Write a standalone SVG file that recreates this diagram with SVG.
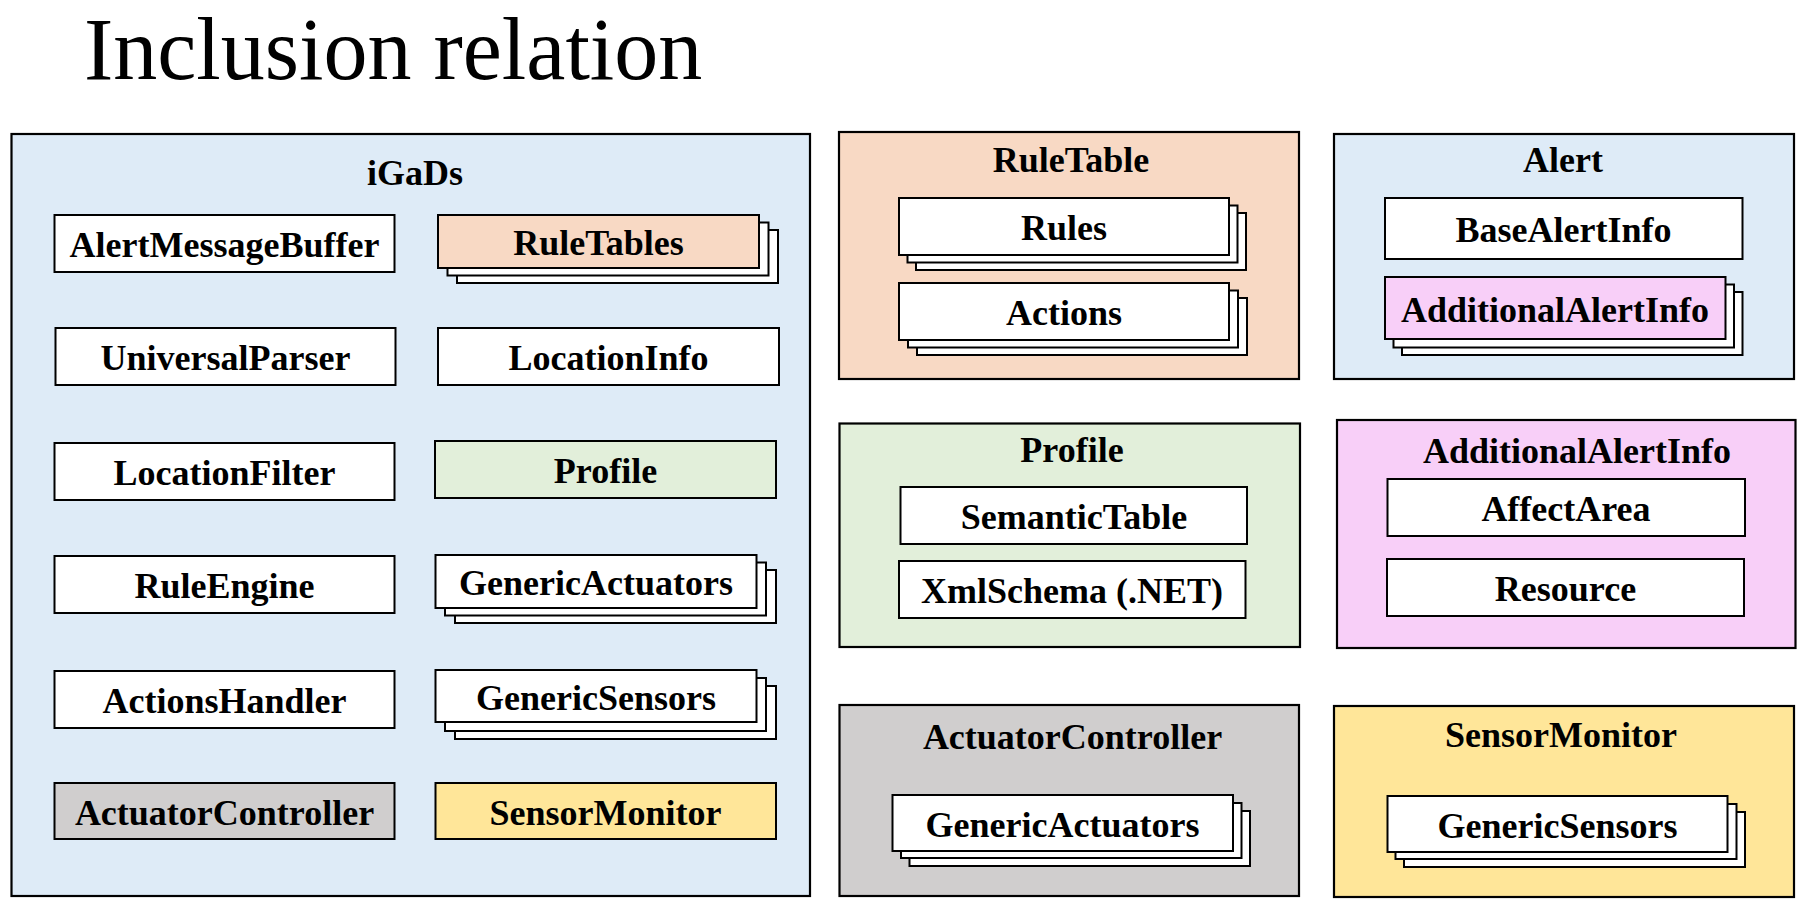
<svg xmlns="http://www.w3.org/2000/svg" width="1810" height="918" viewBox="0 0 1810 918">
<style>
.bg{fill:#ffffff}
.panel{stroke:#000;stroke-width:2.2}
.box{fill:#fff;stroke:#000;stroke-width:2}
.blue{fill:#DEEBF7}
.peach{fill:#F8D9C4}
.green{fill:#E2EFDA}
.pink{fill:#F8CFF8}
.grey{fill:#D0CECE}
.yellow{fill:#FFE699}
.lbl{font-family:"Liberation Serif","Times New Roman",serif;font-weight:bold;font-size:36px;text-anchor:middle;fill:#000}
.title{font-family:"Liberation Serif","Times New Roman",serif;font-size:88px;fill:#000}
</style>
<rect class="bg" x="0" y="0" width="1810" height="918"/>
<text class="title" x="84" y="79">Inclusion relation</text>

<g id="iGaDs">
<rect class="panel blue" x="11.5" y="134" width="798.5" height="762"/>
<text class="lbl" x="415" y="185">iGaDs</text>
</g>
<g id="AlertMessageBuffer"><rect class="box" x="54.5" y="215" width="340" height="57"/><text class="lbl" x="224.5" y="257">AlertMessageBuffer</text></g>
<g id="UniversalParser"><rect class="box" x="55.5" y="328" width="340" height="57"/><text class="lbl" x="225.5" y="370">UniversalParser</text></g>
<g id="LocationFilter"><rect class="box" x="54.5" y="443" width="340" height="57"/><text class="lbl" x="224.5" y="485">LocationFilter</text></g>
<g id="RuleEngine"><rect class="box" x="54.5" y="556" width="340" height="57"/><text class="lbl" x="224.5" y="598">RuleEngine</text></g>
<g id="ActionsHandler"><rect class="box" x="54.5" y="671" width="340" height="57"/><text class="lbl" x="224.5" y="713">ActionsHandler</text></g>
<g id="ActuatorController-inner"><rect class="box grey" x="54.5" y="783" width="340" height="56"/><text class="lbl" x="224.5" y="825">ActuatorController</text></g>

<g id="RuleTables">
<rect class="box" x="457" y="230" width="321" height="53"/>
<rect class="box" x="447.5" y="222.5" width="321" height="53"/>
<rect class="box peach" x="438" y="215" width="321" height="53"/>
<text class="lbl" x="598.5" y="255">RuleTables</text>
</g>
<g id="LocationInfo"><rect class="box" x="438" y="328" width="341" height="57"/><text class="lbl" x="608.5" y="370">LocationInfo</text></g>
<g id="Profile-inner"><rect class="box green" x="435" y="441" width="341" height="57"/><text class="lbl" x="605.5" y="483">Profile</text></g>
<g id="GenericActuators-inner">
<rect class="box" x="455" y="570" width="321" height="53"/>
<rect class="box" x="445" y="562.5" width="321" height="53"/>
<rect class="box" x="435.5" y="555" width="321" height="53"/>
<text class="lbl" x="596" y="595">GenericActuators</text>
</g>
<g id="GenericSensors-inner">
<rect class="box" x="455" y="686" width="321" height="53"/>
<rect class="box" x="445" y="678" width="321" height="53"/>
<rect class="box" x="435.5" y="670" width="321" height="52"/>
<text class="lbl" x="596" y="710">GenericSensors</text>
</g>
<g id="SensorMonitor-inner"><rect class="box yellow" x="435.5" y="783" width="340.5" height="56"/><text class="lbl" x="605.5" y="825">SensorMonitor</text></g>

<g id="RuleTable">
<rect class="panel peach" x="839" y="132" width="460" height="247"/>
<text class="lbl" x="1071" y="172">RuleTable</text>
</g>
<g id="Rules">
<rect class="box" x="916" y="213" width="330" height="57"/>
<rect class="box" x="907.5" y="205.5" width="330" height="57"/>
<rect class="box" x="899" y="198" width="330" height="57"/>
<text class="lbl" x="1064" y="240">Rules</text>
</g>
<g id="Actions">
<rect class="box" x="917" y="298" width="330" height="57"/>
<rect class="box" x="908" y="290.5" width="330" height="57"/>
<rect class="box" x="899" y="283" width="330" height="57"/>
<text class="lbl" x="1064" y="325">Actions</text>
</g>

<g id="Alert">
<rect class="panel blue" x="1334" y="134" width="460" height="245"/>
<text class="lbl" x="1563" y="172">Alert</text>
</g>
<g id="BaseAlertInfo"><rect class="box" x="1385" y="198" width="357.5" height="61"/><text class="lbl" x="1563.5" y="242">BaseAlertInfo</text></g>
<g id="AdditionalAlertInfo-inner">
<rect class="box" x="1402" y="292" width="340.5" height="63"/>
<rect class="box" x="1393.5" y="284.5" width="340.5" height="63"/>
<rect class="box pink" x="1385" y="277" width="340.5" height="62"/>
<text class="lbl" x="1555" y="322">AdditionalAlertInfo</text>
</g>

<g id="Profile">
<rect class="panel green" x="839.5" y="423.5" width="460.5" height="223.5"/>
<text class="lbl" x="1072" y="462">Profile</text>
</g>
<g id="SemanticTable"><rect class="box" x="900.5" y="487" width="346.5" height="57"/><text class="lbl" x="1074" y="529">SemanticTable</text></g>
<g id="XmlSchema"><rect class="box" x="899" y="561" width="346.5" height="57"/><text class="lbl" x="1072" y="603">XmlSchema (.NET)</text></g>

<g id="AdditionalAlertInfo">
<rect class="panel pink" x="1337" y="420" width="458.5" height="228"/>
<text class="lbl" x="1577" y="463">AdditionalAlertInfo</text>
</g>
<g id="AffectArea"><rect class="box" x="1387.5" y="479" width="357.5" height="57"/><text class="lbl" x="1566" y="521">AffectArea</text></g>
<g id="Resource"><rect class="box" x="1387" y="559" width="357" height="57"/><text class="lbl" x="1565.5" y="601">Resource</text></g>

<g id="ActuatorController">
<rect class="panel grey" x="839.5" y="705" width="459.5" height="191"/>
<text class="lbl" x="1072.5" y="749">ActuatorController</text>
</g>
<g id="GenericActuators">
<rect class="box" x="909.5" y="811" width="340.5" height="55"/>
<rect class="box" x="901" y="803" width="340.5" height="55"/>
<rect class="box" x="892.5" y="795" width="340.5" height="56"/>
<text class="lbl" x="1062.5" y="837">GenericActuators</text>
</g>

<g id="SensorMonitor">
<rect class="panel yellow" x="1334" y="706" width="460" height="191"/>
<text class="lbl" x="1561" y="747">SensorMonitor</text>
</g>
<g id="GenericSensors">
<rect class="box" x="1404" y="812" width="341" height="55"/>
<rect class="box" x="1395.5" y="804" width="341" height="55"/>
<rect class="box" x="1387.5" y="796" width="340" height="56"/>
<text class="lbl" x="1557.5" y="838">GenericSensors</text>
</g>

<g id="connectors"></g>
</svg>
